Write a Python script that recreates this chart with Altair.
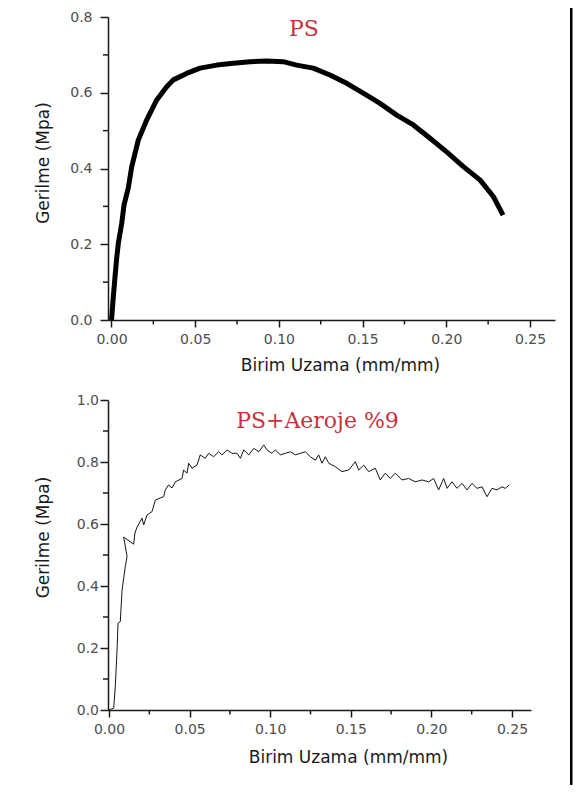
import altair as alt
import pandas as pd

# ---------------- data ----------------
ps_strain = [0.0, 0.0001, 0.0011, 0.0021, 0.0031, 0.0041, 0.0061, 0.0075, 0.0100, 0.0121,
             0.0160, 0.0210, 0.0270, 0.0330, 0.0369, 0.0449, 0.0529, 0.0628, 0.0728, 0.0827,
             0.0927, 0.1026, 0.1106, 0.1205, 0.1305, 0.1405, 0.1504, 0.1604, 0.1704, 0.1803,
             0.1903, 0.2002, 0.2102, 0.2201, 0.2281, 0.2339]
ps_stress = [0.0, 0.005, 0.062, 0.114, 0.163, 0.203, 0.255, 0.304, 0.348, 0.405,
             0.475, 0.528, 0.581, 0.616, 0.634, 0.651, 0.665, 0.673, 0.678, 0.682,
             0.684, 0.682, 0.673, 0.665, 0.647, 0.625, 0.599, 0.572, 0.541, 0.515,
             0.480, 0.444, 0.405, 0.370, 0.326, 0.277]

aero_strain = [0.0, 0.0008, 0.0029, 0.0039, 0.0050, 0.0056, 0.0070, 0.0081, 0.0101, 0.0112,
               0.0091, 0.0153, 0.0161, 0.0174, 0.0205, 0.0215, 0.0236, 0.0267, 0.0287, 0.0318,
               0.0339, 0.0349, 0.0370, 0.0391, 0.0411, 0.0453, 0.0463, 0.0484, 0.0494, 0.0515,
               0.0546, 0.0566, 0.0597, 0.0618, 0.0649, 0.0680, 0.0701, 0.0732, 0.0763, 0.0794,
               0.0815, 0.0836, 0.0867, 0.0898, 0.0929, 0.0960, 0.0980, 0.1011, 0.1032, 0.1063,
               0.1094, 0.1125, 0.1156, 0.1187, 0.1218, 0.1249, 0.1280, 0.1301, 0.1321, 0.1342,
               0.1363, 0.1404, 0.1445, 0.1487, 0.1528, 0.1549, 0.1580, 0.1611, 0.1652, 0.1683,
               0.1714, 0.1745, 0.1776, 0.1818, 0.1859, 0.1900, 0.1942, 0.1983, 0.2014, 0.2045,
               0.2076, 0.2097, 0.2128, 0.2159, 0.2190, 0.2221, 0.2252, 0.2283, 0.2314, 0.2345,
               0.2376, 0.2407, 0.2438, 0.2458, 0.2483]
aero_stress = [0.0, 0.002, 0.006, 0.075, 0.194, 0.280, 0.285, 0.387, 0.462, 0.495,
               0.558, 0.535, 0.571, 0.590, 0.619, 0.597, 0.629, 0.640, 0.677, 0.684,
               0.688, 0.710, 0.726, 0.716, 0.736, 0.747, 0.774, 0.764, 0.796, 0.780,
               0.790, 0.823, 0.812, 0.828, 0.817, 0.833, 0.823, 0.839, 0.828, 0.828,
               0.812, 0.839, 0.823, 0.844, 0.833, 0.855, 0.839, 0.828, 0.839, 0.823,
               0.828, 0.833, 0.823, 0.828, 0.833, 0.817, 0.806, 0.823, 0.796, 0.817,
               0.796, 0.785, 0.769, 0.774, 0.801, 0.774, 0.790, 0.769, 0.780, 0.742,
               0.764, 0.747, 0.764, 0.742, 0.747, 0.736, 0.742, 0.736, 0.747, 0.710,
               0.747, 0.715, 0.736, 0.715, 0.731, 0.710, 0.731, 0.715, 0.720, 0.688,
               0.715, 0.710, 0.720, 0.715, 0.726]

x_ticks = [0.0, 0.05, 0.10, 0.15, 0.20, 0.25]
x_minor = [0.025, 0.075, 0.125, 0.175, 0.225]
top_y_ticks = [0.0, 0.2, 0.4, 0.6, 0.8]
top_y_minor = [0.1, 0.3, 0.5, 0.7]
bot_y_ticks = [0.0, 0.2, 0.4, 0.6, 0.8, 1.0]
bot_y_minor = [0.1, 0.3, 0.5, 0.7, 0.9]

top_title = "PS"
bot_title = "PS+Aeroje %9"
x_title = "Birim Uzama (mm/mm)"
y_title = "Gerilme (Mpa)"

RED = "#c8323f"
INK = "#1a1a1a"

top_df = pd.DataFrame({"x": ps_strain, "y": ps_stress, "i": range(len(ps_strain))})
bot_df = pd.DataFrame({"x": aero_strain, "y": aero_stress, "i": range(len(aero_strain))})

# ---------------- panel geometry ----------------
TW, TH = 447, 303
BW, BH = 423, 310
top_xs = alt.Scale(domain=[-0.00209, 0.26494], nice=False, zero=False)
top_ys = alt.Scale(domain=[0, 0.8], nice=False)
bot_xs = alt.Scale(domain=[-0.00062, 0.26179], nice=False, zero=False)
bot_ys = alt.Scale(domain=[0, 1.0], nice=False)

one = pd.DataFrame({"k": [0]})


def panel(df, xs, ys, ytick, yminor, w, h, stroke_w, line_color, label, lx, ly,
          ylabpad, ytitle_y, xtitle_x, xtitle_y, extras):
    xax = alt.Axis(values=x_ticks, format=".2f", title=x_title,
                   tickSize=7, labelPadding=5, labelFlush=False,
                   titleX=xtitle_x, titleY=xtitle_y,
                   titleBaseline="alphabetic", titleAlign="center", grid=False)
    yax = alt.Axis(values=ytick, format=".1f", title=y_title,
                   tickSize=8, labelPadding=ylabpad, labelFlush=False,
                   titleX=-56, titleY=ytitle_y, titleAlign="center", grid=False)
    curve = alt.Chart(df).mark_line(color=line_color, strokeWidth=stroke_w,
                                    strokeJoin="round").encode(
        x=alt.X("x:Q", scale=xs, axis=xax),
        y=alt.Y("y:Q", scale=ys, axis=yax),
        order=alt.Order("i:Q"),
    )
    mx = alt.Chart(pd.DataFrame({"x": x_minor})).mark_rule(
        color=INK, strokeWidth=1.5).encode(
        x=alt.X("x:Q", scale=xs, axis=xax),
        y=alt.value(h), y2=alt.value(h + 4.5))
    my = alt.Chart(pd.DataFrame({"y": yminor})).mark_rule(
        color=INK, strokeWidth=1.5).encode(
        y=alt.Y("y:Q", scale=ys, axis=yax),
        x=alt.value(0), x2=alt.value(-5))
    txt = alt.Chart(pd.DataFrame({"t": [label]})).mark_text(
        font="DejaVu Serif", fontSize=22, color=RED, align="center",
        baseline="alphabetic").encode(text="t:N", x=alt.value(lx), y=alt.value(ly))
    return alt.layer(curve, mx, my, txt, *extras).properties(width=w, height=h)


# frame pieces (top panel coords; plot origin sits at page (108, 17));
# the whole drawing is kept inside 565 x 778 so the page does not scroll
anchor = alt.Chart(one).mark_rect(color="white").encode(
    x=alt.value(-100), x2=alt.value(-99), y=alt.value(-9), y2=alt.value(-8))
right_border = alt.Chart(one).mark_rect(color="black").encode(
    x=alt.value(462), x2=alt.value(464.5), y=alt.value(-9), y2=alt.value(768))

top = panel(top_df, top_xs, top_ys, top_y_ticks, top_y_minor, TW, TH, 5, "black",
            top_title, 196, 19, 8, 145.5, 232, 50, [anchor, right_border])
bottom = panel(bot_df, bot_xs, bot_ys, bot_y_ticks, bot_y_minor, BW, BH, 1, "#151515",
               bot_title, 209.5, 28, 1.5, 137, 240, 52, [])

chart = alt.concat(top, bottom, columns=1, spacing=80, bounds="flush").properties(
    padding=0, background="white"
).configure_view(stroke=None).configure_axis(
    labelFont="DejaVu Sans", labelFontSize=14, labelColor="#4d4d4d",
    titleFont="DejaVu Sans", titleFontSize=17, titleFontWeight="normal",
    titleColor=INK, domainColor=INK, domainWidth=1.5, tickColor=INK, tickWidth=1.5,
)

chart.save("out.html", embed_options={"renderer": "svg", "actions": False})
